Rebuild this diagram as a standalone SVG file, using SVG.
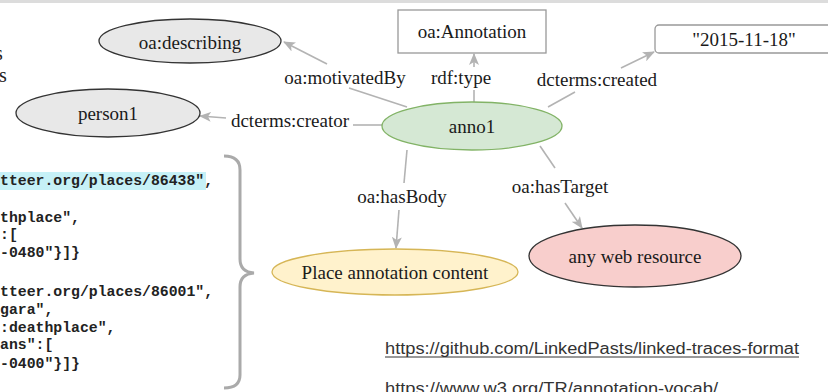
<svg xmlns="http://www.w3.org/2000/svg" width="828" height="392" viewBox="0 0 828 392">
<style>
.lbl{font-family:"Liberation Serif","Times New Roman",serif;font-size:19px;fill:#1a1a1a;text-anchor:middle}
.code{font-family:"Liberation Mono","Courier New",monospace;font-size:14.8px;font-weight:bold;fill:#222}
.link{font-family:"Liberation Sans",Arial,sans-serif;font-size:16px;fill:#333}
.edge{stroke:#b3b3b3;stroke-width:1.6;fill:none}
</style>
<defs>
<marker id="arr" viewBox="0 0 12 10" refX="11" refY="5" markerWidth="12" markerHeight="10" markerUnits="userSpaceOnUse" orient="auto">
<path d="M0,0 L12,5 L0,10 L3,5 z" fill="#b3b3b3"/>
</marker>
</defs>
<rect x="0" y="0" width="828" height="392" fill="#ffffff"/>
<rect x="0" y="0" width="828" height="3" fill="#dcdcdc"/>
<text x="-5" y="60" font-family="Liberation Serif,serif" font-size="20" fill="#222">s</text>
<text x="-1" y="82" font-family="Liberation Serif,serif" font-size="20" fill="#222">s</text>

<g id="code">
<rect x="0" y="172" width="206" height="18" fill="#c6f1f7"/>
<text class="code" x="0" y="185">tteer.org/places/86438",</text>
<text class="code" x="0" y="222">thplace",</text>
<text class="code" x="0" y="239">:[</text>
<text class="code" x="0" y="257">-0480"}]}</text>
<text class="code" x="0" y="296">tteer.org/places/86001",</text>
<text class="code" x="0" y="314">gara",</text>
<text class="code" x="0" y="332">:deathplace",</text>
<text class="code" x="0" y="349">ans":[</text>
<text class="code" x="0" y="368">-0400"}]}</text>
</g>
<g id="brace">
<path d="M224,156 Q240,156 240,170 L240,259 Q240,272 254,273 Q240,274 240,287 L240,375 Q240,388 224,388" fill="none" stroke="#aaaaaa" stroke-width="3"/>
</g>

<g id="connectors">
<line class="edge" x1="407" y1="107" x2="349" y2="88"/>
<line class="edge" x1="327" y1="64" x2="284" y2="42" marker-end="url(#arr)"/>
<line class="edge" x1="474" y1="102" x2="474" y2="90"/>
<line class="edge" x1="474" y1="67" x2="474" y2="54" marker-end="url(#arr)"/>
<line class="edge" x1="548" y1="107" x2="575" y2="92"/>
<line class="edge" x1="621" y1="68" x2="654" y2="52" marker-end="url(#arr)"/>
<line class="edge" x1="383" y1="125" x2="353" y2="125"/>
<line class="edge" x1="226" y1="118" x2="200" y2="116" marker-end="url(#arr)"/>
<line class="edge" x1="407" y1="150" x2="404" y2="183"/>
<line class="edge" x1="399" y1="210" x2="396" y2="248" marker-end="url(#arr)"/>
<line class="edge" x1="540" y1="146" x2="555" y2="168"/>
<line class="edge" x1="565" y1="203" x2="582" y2="228" marker-end="url(#arr)"/>
<text class="lbl" x="345" y="84">oa:motivatedBy</text>
<text class="lbl" x="461" y="84">rdf:type</text>
<text class="lbl" x="597" y="86">dcterms:created</text>
<text class="lbl" x="290" y="127">dcterms:creator</text>
<text class="lbl" x="402" y="203">oa:hasBody</text>
<text class="lbl" x="560" y="193">oa:hasTarget</text>
</g>

<g id="oa-describing">
<ellipse cx="190" cy="41" rx="91" ry="22" fill="#e8e8e8" stroke="#333" stroke-width="1.3"/>
<text class="lbl" x="190" y="49">oa:describing</text>
</g>
<g id="person1">
<ellipse cx="108" cy="113" rx="92" ry="24" fill="#e8e8e8" stroke="#333" stroke-width="1.3"/>
<text class="lbl" x="108" y="120">person1</text>
</g>
<g id="oa-annotation">
<rect x="398" y="10" width="148" height="43" fill="#fff" stroke="#999" stroke-width="1.3"/>
<text class="lbl" x="472" y="38">oa:Annotation</text>
</g>
<g id="date">
<rect x="655" y="25" width="180" height="28" rx="4" fill="#fff" stroke="#999" stroke-width="1.3"/>
<text class="lbl" x="744" y="46">"2015-11-18"</text>
</g>
<g id="anno1">
<ellipse cx="472" cy="126" rx="90" ry="24" fill="#d5e8d4" stroke="#82b366" stroke-width="1.3"/>
<text class="lbl" x="472" y="133">anno1</text>
</g>
<g id="place-annotation">
<ellipse cx="395" cy="272" rx="123" ry="23" fill="#fff2cc" stroke="#d6b656" stroke-width="1.3"/>
<text class="lbl" x="395" y="279">Place annotation content</text>
</g>
<g id="web-resource">
<ellipse cx="635" cy="256" rx="106" ry="31" fill="#f8cecc" stroke="#333" stroke-width="1.3"/>
<text class="lbl" x="635" y="263">any web resource</text>
</g>

<g id="links">
<text class="link" x="385" y="354" textLength="414" lengthAdjust="spacingAndGlyphs">https://github.com/LinkedPasts/linked-traces-format</text>
<line x1="385" y1="357" x2="799" y2="357" stroke="#333" stroke-width="1"/>
<text class="link" x="385" y="394" textLength="333" lengthAdjust="spacingAndGlyphs">https://www.w3.org/TR/annotation-vocab/</text>
</g>
</svg>
